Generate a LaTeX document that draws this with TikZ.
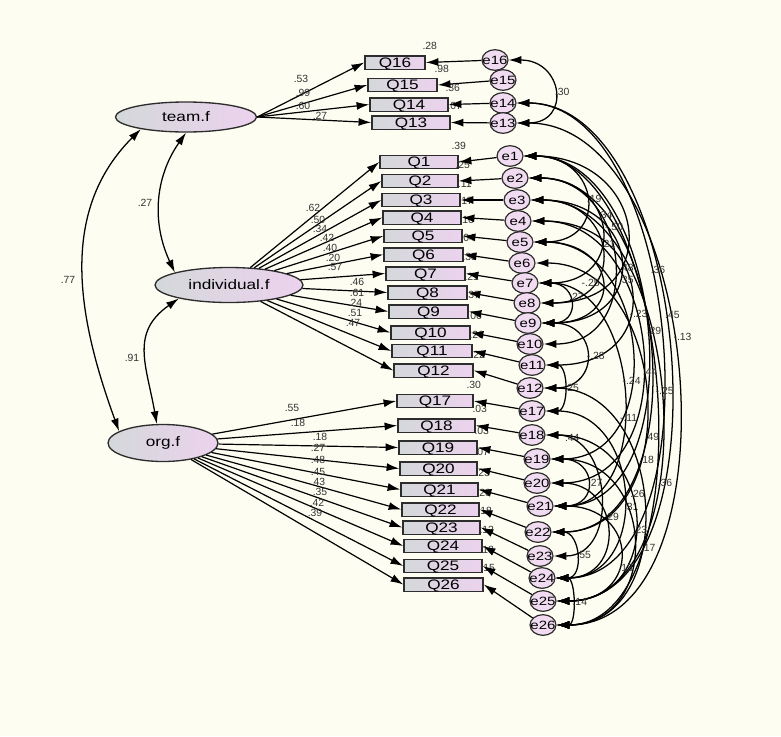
\documentclass[tikz,border=0pt]{standalone}
\usepackage{fontspec}
\setmainfont{Liberation Sans}
\newfontfamily\amosfont[FakeStretch=1.25]{Liberation Sans}
\usetikzlibrary{arrows.meta,shapes.geometric}
\definecolor{amoscream}{RGB}{253,253,241}
\definecolor{amosgray}{RGB}{212,216,218}
\definecolor{amospink}{RGB}{236,210,238}
\definecolor{amosline}{RGB}{45,45,45}

\tikzset{
  obs/.style={draw=amosline, line width=1.1pt, left color=amosgray, right color=amospink,
    minimum width=58.5pt, minimum height=10.1pt, inner sep=0pt, text height=7.4pt, text depth=0pt,
    font=\amosfont\fontsize{10.3}{10.3}\selectfont},
  lat/.style={ellipse, draw=amosline, line width=1pt, left color=amosgray, right color=amospink,
    inner sep=0pt, font=\amosfont\fontsize{10.3}{10.3}\selectfont},
  err/.style={ellipse, draw=amosline, line width=0.9pt, fill=amospink!80!white,
    minimum width=19.5pt, minimum height=15.5pt, inner xsep=-2.5pt, inner ysep=-2pt,
    font=\amosfont\fontsize{9}{9}\selectfont},
  lbl/.style={inner sep=0.5pt, text=black!80, font=\fontsize{7.8}{7.8}\selectfont},
  path/.style={->, line width=0.9pt},
  cov/.style={<->, line width=0.95pt},
}

\begin{document}
\begin{tikzpicture}[x=0.75pt, y=0.75pt, >={Latex[length=9.5pt,width=6pt]}]
\fill[amoscream] (0,0) rectangle (781,-736);
\useasboundingbox (0,0) rectangle (781,-736);

% factors
\node[lat, minimum width=105.75pt, minimum height=22.5pt] (team) at (186,-117) {team.f};
\node[lat, minimum width=111pt, minimum height=26.25pt] (indiv) at (229,-285) {individual.f};
\node[lat, minimum width=82.5pt, minimum height=27.75pt] (org) at (163,-443) {org.f};

% items
\node[obs, minimum width=45pt] (Q16) at (395,-62.5) {Q16};
\node[obs, minimum width=51.75pt] (Q15) at (402.5,-85) {Q15};
\node[obs] (Q14) at (409,-104.5) {Q14};
\node[obs] (Q13) at (411,-122.5) {Q13};
\node[obs] (Q1) at (419,-162) {Q1};
\node[obs, minimum width=57pt] (Q2) at (420,-181) {Q2};
\node[obs] (Q3) at (421,-200) {Q3};
\node[obs] (Q4) at (422,-217.5) {Q4};
\node[obs] (Q5) at (423,-236) {Q5};
\node[obs, minimum width=59.25pt] (Q6) at (423.5,-254.5) {Q6};
\node[obs, minimum width=59.25pt] (Q7) at (425.5,-273.5) {Q7};
\node[obs, minimum width=59.25pt] (Q8) at (427.5,-292.5) {Q8};
\node[obs, minimum width=59.25pt] (Q9) at (428.5,-311.5) {Q9};
\node[obs, minimum width=59.25pt] (Q10) at (430.5,-332.5) {Q10};
\node[obs, minimum width=60pt] (Q11) at (432,-351) {Q11};
\node[obs, minimum width=59.25pt] (Q12) at (433.5,-370.5) {Q12};
\node[obs, minimum width=57pt] (Q17) at (435,-401) {Q17};
\node[obs, minimum width=57.75pt] (Q18) at (436.5,-425.5) {Q18};
\node[obs] (Q19) at (438,-447.5) {Q19};
\node[obs, minimum width=57.75pt] (Q20) at (438.5,-468.5) {Q20};
\node[obs, minimum width=57.75pt] (Q21) at (439.5,-489.5) {Q21};
\node[obs, minimum width=57.75pt] (Q22) at (440.5,-509.5) {Q22};
\node[obs, minimum width=57.75pt] (Q23) at (441.5,-527.5) {Q23};
\node[obs] (Q24) at (443,-546) {Q24};
\node[obs] (Q25) at (443,-566) {Q25};
\node[obs, minimum width=59.25pt] (Q26) at (443.5,-584.5) {Q26};

% errors
\node[err] (e16) at (495,-60) {e16};
\node[err] (e15) at (503,-80) {e15};
\node[err] (e14) at (503,-103) {e14};
\node[err] (e13) at (503,-123) {e13};
\node[err] (e1) at (510,-156) {e1};
\node[err] (e2) at (515,-178) {e2};
\node[err] (e3) at (517,-200) {e3};
\node[err] (e4) at (518,-221) {e4};
\node[err] (e5) at (520,-242) {e5};
\node[err] (e6) at (522,-263) {e6};
\node[err] (e7) at (525,-283) {e7};
\node[err] (e8) at (527,-303) {e8};
\node[err] (e9) at (528,-323) {e9};
\node[err] (e10) at (530,-344) {e10};
\node[err] (e11) at (532,-365) {e11};
\node[err] (e12) at (530,-388) {e12};
\node[err] (e17) at (532,-411) {e17};
\node[err] (e18) at (532,-435) {e18};
\node[err] (e19) at (537,-459) {e19};
\node[err] (e20) at (537,-483) {e20};
\node[err] (e21) at (540,-506) {e21};
\node[err] (e22) at (538,-532) {e22};
\node[err] (e23) at (540,-556) {e23};
\node[err] (e24) at (542,-578) {e24};
\node[err] (e25) at (543,-601) {e25};
\node[err] (e26) at (543,-625) {e26};

% squared multiple correlations
\node[lbl] (r16) at ([xshift=3pt,yshift=6.5pt]Q16.north east) {.28};
\node[lbl] (r15) at ([xshift=3pt,yshift=6.5pt]Q15.north east) {.98};
\node[lbl] (r14) at ([xshift=3pt,yshift=6.5pt]Q14.north east) {.36};
\node[lbl] (r13) at ([xshift=3pt,yshift=6.5pt]Q13.north east) {.07};
\node[lbl] (r1) at ([xshift=0pt,yshift=6.5pt]Q1.north east) {.39};
\node[lbl] (r2) at ([xshift=3pt,yshift=6.5pt]Q2.north east) {.25};
\node[lbl] (r3) at ([xshift=3pt,yshift=6.5pt]Q3.north east) {.11};
\node[lbl] (r4) at ([xshift=3pt,yshift=6.5pt]Q4.north east) {.17};
\node[lbl] (r5) at ([xshift=3pt,yshift=6.5pt]Q5.north east) {.16};
\node[lbl] (r6) at ([xshift=3pt,yshift=6.5pt]Q6.north east) {.04};
\node[lbl] (r7) at ([xshift=3pt,yshift=6.5pt]Q7.north east) {.33};
\node[lbl] (r8) at ([xshift=3pt,yshift=6.5pt]Q8.north east) {.21};
\node[lbl] (r9) at ([xshift=3pt,yshift=6.5pt]Q9.north east) {.37};
\node[lbl] (r10) at ([xshift=3pt,yshift=6.5pt]Q10.north east) {.06};
\node[lbl] (r11) at ([xshift=3pt,yshift=6.5pt]Q11.north east) {.26};
\node[lbl] (r12) at ([xshift=3pt,yshift=6.5pt]Q12.north east) {.22};
\node[lbl] (r17) at ([xshift=0pt,yshift=6.5pt]Q17.north east) {.30};
\node[lbl] (r18) at ([xshift=3pt,yshift=6.5pt]Q18.north east) {.03};
\node[lbl] (r19) at ([xshift=3pt,yshift=6.5pt]Q19.north east) {.03};
\node[lbl] (r20) at ([xshift=3pt,yshift=6.5pt]Q20.north east) {.07};
\node[lbl] (r21) at ([xshift=3pt,yshift=6.5pt]Q21.north east) {.23};
\node[lbl] (r22) at ([xshift=3pt,yshift=6.5pt]Q22.north east) {.20};
\node[lbl] (r23) at ([xshift=3pt,yshift=6.5pt]Q23.north east) {.18};
\node[lbl] (r24) at ([xshift=3pt,yshift=6.5pt]Q24.north east) {.12};
\node[lbl] (r25) at ([xshift=3pt,yshift=6.5pt]Q25.north east) {.18};
\node[lbl] (r26) at ([xshift=3pt,yshift=6.5pt]Q26.north east) {.15};

% loadings
\draw[path] (team.east) -- (Q16.west);
\draw[path] (team.east) -- (Q15.west);
\draw[path] (team.east) -- (Q14.west);
\draw[path] (team.east) -- (Q13.west);
\node[lbl] (w16) at (301,-79) {.53};
\node[lbl] (w15) at (303,-93) {.99};
\node[lbl] (w14) at (303,-106) {.60};
\node[lbl] (w13) at (320,-116) {.27};

\draw[path] (indiv) -- (Q1.west);
\draw[path] (indiv) -- (Q2.west);
\draw[path] (indiv) -- (Q3.west);
\draw[path] (indiv) -- (Q4.west);
\draw[path] (indiv) -- (Q5.west);
\draw[path] (indiv) -- (Q6.west);
\draw[path] (indiv) -- (Q7.west);
\draw[path] (indiv) -- (Q8.west);
\draw[path] (indiv) -- (Q9.west);
\draw[path] (indiv) -- (Q10.west);
\draw[path] (indiv) -- (Q11.west);
\draw[path] (indiv) -- (Q12.west);
\node[lbl] (w1) at (313,-208) {.62};
\node[lbl] (w2) at (318,-220) {.50};
\node[lbl] (w3) at (320,-229) {.34};
\node[lbl] (w4) at (327,-238) {.42};
\node[lbl] (w5) at (330,-248) {.40};
\node[lbl] (w6) at (333,-258) {.20};
\node[lbl] (w7) at (335,-267) {.57};
\node[lbl] (w8) at (357,-282) {.46};
\node[lbl] (w9) at (357,-293) {.61};
\node[lbl] (w10) at (355,-303) {.24};
\node[lbl] (w11) at (355,-313) {.51};
\node[lbl] (w12) at (353,-323) {.47};

\draw[path] (org) -- (Q17.west);
\draw[path] (org) -- (Q18.west);
\draw[path] (org) -- (Q19.west);
\draw[path] (org) -- (Q20.west);
\draw[path] (org) -- (Q21.west);
\draw[path] (org) -- (Q22.west);
\draw[path] (org) -- (Q23.west);
\draw[path] (org) -- (Q24.west);
\draw[path] (org) -- (Q25.west);
\draw[path] (org) -- (Q26.west);
\node[lbl] (w17) at (292,-408) {.55};
\node[lbl] (w18) at (298,-423) {.18};
\node[lbl] (w19) at (320,-437) {.18};
\node[lbl] (w20) at (318,-448) {.27};
\node[lbl] (w21) at (318,-460) {.48};
\node[lbl] (w22) at (318,-472) {.45};
\node[lbl] (w23) at (318,-482) {.43};
\node[lbl] (w24) at (320,-492) {.35};
\node[lbl] (w25) at (317,-503) {.42};
\node[lbl] (w26) at (315,-513) {.39};

% factor covariances
\draw[cov] (team.south) to[out=235,in=115] (indiv.167);
\draw[cov] (indiv.195) to[out=215,in=100,looseness=1.2] (org.108);
\draw[cov] (team.195) to[out=225,in=110] (org.165);
\node[lbl] (k1) at (145,-203) {.27};
\node[lbl] (k2) at (132,-358) {.91};
\node[lbl] (k3) at (68,-280) {.77};

% error paths
\draw[path] (e16) -- (Q16.east);
\draw[path] (e15) -- (Q15.east);
\draw[path] (e14) -- (Q14.east);
\draw[path] (e13) -- (Q13.east);
\draw[path] (e1) -- (Q1.east);
\draw[path] (e2) -- (Q2.east);
\draw[path] (e3) -- (Q3.east);
\draw[path] (e4) -- (Q4.east);
\draw[path] (e5) -- (Q5.east);
\draw[path] (e6) -- (Q6.east);
\draw[path] (e7) -- (Q7.east);
\draw[path] (e8) -- (Q8.east);
\draw[path] (e9) -- (Q9.east);
\draw[path] (e10) -- (Q10.east);
\draw[path] (e11) -- (Q11.east);
\draw[path] (e12) -- (Q12.east);
\draw[path] (e17) -- (Q17.east);
\draw[path] (e18) -- (Q18.east);
\draw[path] (e19) -- (Q19.east);
\draw[path] (e20) -- (Q20.east);
\draw[path] (e21) -- (Q21.east);
\draw[path] (e22) -- (Q22.east);
\draw[path] (e23) -- (Q23.east);
\draw[path] (e24) -- (Q24.east);
\draw[path] (e25) -- (Q25.east);
\draw[path] (e26) -- (Q26.east);

% error covariances
\draw[cov] (e16) to[out=0,in=0,looseness=2.2] node[lbl,pos=.5,anchor=west] (c1) {.30} (e13);
\draw[cov] (e13) to[out=0,in=0,looseness=0.95] node[lbl,pos=.45,anchor=west] (c2) {-.13} (e26);
\draw[cov] (e14) to[out=0,in=0,looseness=0.9] node[lbl,pos=.45,anchor=west] (c3) {.45} (e25);
\draw[cov] (e14) to[out=0,in=0,looseness=0.89] node[lbl,pos=.4,anchor=west] (c4) {.36} (e24);
\draw[cov] (e1) to[out=0,in=0,looseness=0.83] node[lbl,pos=.5,anchor=west] (c5) {-.25} (e26);
\draw[cov] (e3) to[out=0,in=0,looseness=0.99] node[lbl,pos=.64,anchor=west] (c6) {.36} (e25);
\draw[cov] (e1) to[out=0,in=0,looseness=1.04] node[lbl,pos=.5,anchor=west] (c7) {.29} (e21);
\draw[cov] (e2) to[out=0,in=0,looseness=1.05] node[lbl,pos=.66,anchor=west] (c8) {.49} (e22);
\draw[cov] (e4) to[out=0,in=0,looseness=1.3] node[lbl,pos=.55,anchor=west] (c9) {.44} (e20);
\draw[cov] (e5) to[out=0,in=0,looseness=1.39] node[lbl,pos=.72,anchor=west] (c10) {-.11} (e19);
\draw[cov] (e6) to[out=0,in=0,looseness=1.28] node[lbl,pos=.66,anchor=west] (c11) {.18} (e22);
\draw[cov] (e7) to[out=0,in=0,looseness=1.17] node[lbl,pos=.46,anchor=west] (c12) {-.24} (e21);
\draw[cov] (e2) to[out=0,in=0,looseness=1.57] node[lbl,pos=.36,anchor=west] (c13) {-.50} (e10);
\draw[cov] (e1) to[out=0,in=0,looseness=2.16] node[lbl,pos=.68,anchor=west] (c14) {.48} (e8);
\draw[cov] (e1) to[out=0,in=0,looseness=2.25] node[lbl,pos=.5,anchor=west] (c15) {.19} (e5);
\draw[cov] (e2) to[out=0,in=0,looseness=2.17] node[lbl,pos=.4,anchor=west] (c16) {.34} (e7);
\draw[cov] (e3) to[out=0,in=0,looseness=2.15] node[lbl,pos=.45,anchor=west] (c17) {.21} (e8);
\draw[cov] (e4) to[out=0,in=0,looseness=2.15] node[lbl,pos=.6,anchor=west] (c18) {-.23} (e11);
\draw[cov] (e3) to[out=0,in=0,looseness=2.3] node[lbl,pos=.6,anchor=west] (c19) {.35} (e9);
\draw[cov] (e5) to[out=0,in=0,looseness=2.65] node[lbl,pos=.5,anchor=east] (c20) {-.25} (e9);
\draw[cov] (e7) to[out=0,in=0,looseness=2.5] node[lbl,pos=.4,anchor=west] (c21) {.27} (e9);
\draw[cov] (e9) to[out=0,in=0,looseness=2.25] node[lbl,pos=.5,anchor=west] (c22) {-.28} (e12);
\draw[cov] (e11) to[out=0,in=0,looseness=1.3] node[lbl,pos=.5,anchor=west] (c23) {.25} (e17);
\draw[cov] (e18) to[out=0,in=0,looseness=1.4] node[lbl,pos=.1,anchor=west] (c24) {.44} (e23);
\draw[cov] (e19) to[out=0,in=0,looseness=2.5] node[lbl,pos=.5,anchor=west] (c25) {.27} (e21);
\draw[cov] (e17) to[out=0,in=0,looseness=1.47] node[lbl,pos=.55,anchor=west] (c26) {.31} (e24);
\draw[cov] (e18) to[out=0,in=0,looseness=1.7] node[lbl,pos=.4,anchor=west] (c27) {.26} (e25);
\draw[cov] (e12) to[out=0,in=0,looseness=1.33] node[lbl,pos=.62,anchor=west] (c28) {.17} (e26);
\draw[cov] (e20) to[out=0,in=0,looseness=1.9] node[lbl,pos=.4,anchor=west] (c29) {.29} (e24);
\draw[cov] (e22) to[out=0,in=0,looseness=1.6] node[lbl,pos=.5,anchor=west] (c30) {.55} (e24);
\draw[cov] (e19) to[out=0,in=0,looseness=1.62] node[lbl,pos=.45,anchor=west] (c31) {.23} (e26);
\draw[cov] (e21) to[out=0,in=0,looseness=2.3] node[lbl,pos=.6,anchor=west] (c32) {.13} (e25);
\draw[cov] (e24) to[out=0,in=0,looseness=1.1] node[lbl,pos=.5,anchor=west] (c33) {.14} (e26);
\end{tikzpicture}
\end{document}
